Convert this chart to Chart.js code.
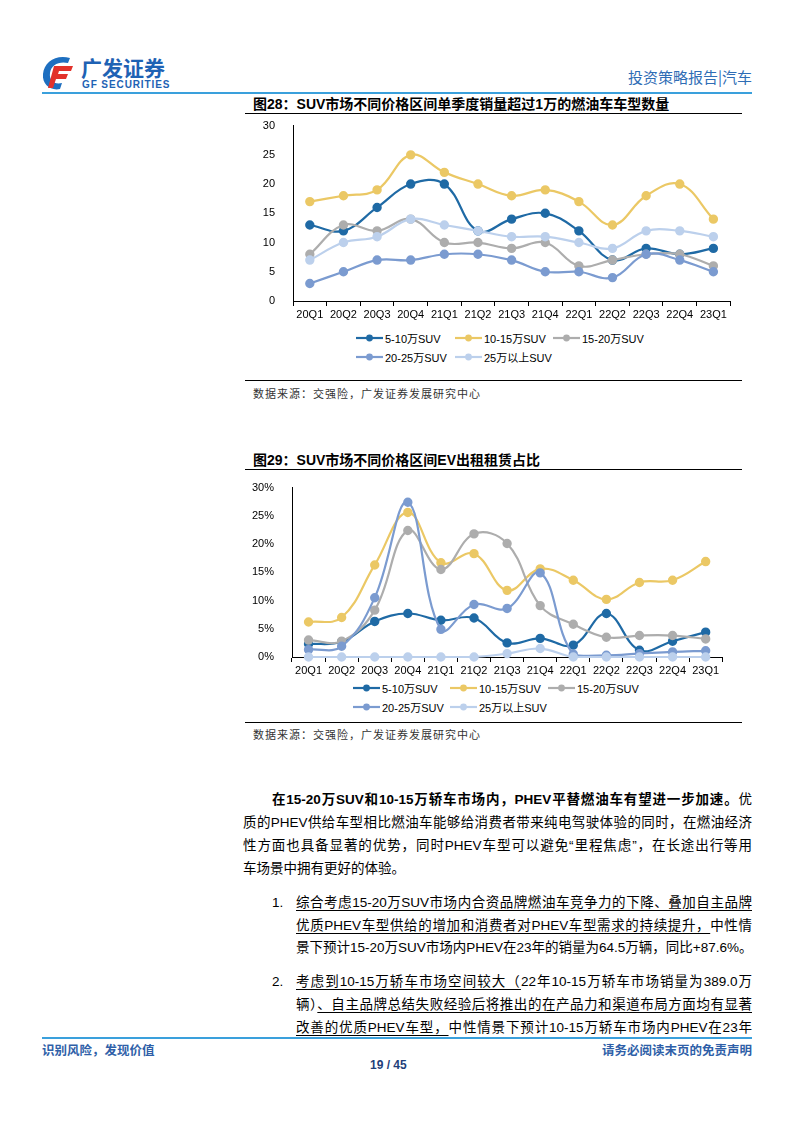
<!DOCTYPE html>
<html>
<head>
<meta charset="utf-8">
<script src="https://cdn.jsdelivr.net/npm/chart.js@4.4.0/dist/chart.umd.min.js"></script>
<style>
  html, body { margin:0; padding:0; background:#fff; }
  body { width:794px; height:1123px; position:relative; overflow:hidden;
         font-family:"Liberation Sans", Arial, "Noto Sans CJK SC", sans-serif; color:#000; }
  .abs { position:absolute; }
  .hline { position:absolute; height:0; }
  .title { font-size:14px; font-weight:bold; white-space:nowrap; }
  .src { font-size:11px; color:#333; letter-spacing:1px; white-space:nowrap; }
  .legend { position:absolute; font-size:11px; }
  .lg-item { position:absolute; white-space:nowrap; display:flex; align-items:center; }
  .lg-item svg { margin-right:2px; }
  .ln { position:absolute; white-space:nowrap; font-size:13.5px; text-align:justify; text-align-last:justify; line-height:18px; }
  .last { text-align-last:left; }
  u { text-decoration-thickness:1px; text-underline-offset:3px; }
</style>
</head>
<body>

<!-- header -->
<svg class="abs" style="left:40px;top:54px" width="36" height="38" viewBox="0 0 36 38">
  <path d="M30 4 C16 0 4 8 3 20 C2 31 11 37 20 35 L22 29 C14 31 9 26 10 19 C11 11 19 7 28 9 Z" fill="#1E6FC0"/>
  <path d="M14 12 L33 12 L31 17 L19 17 L18 20 L28 20 L26 25 L16 25 L13 34 L8 34 Z" fill="#E2322B"/>
</svg>
<div class="abs" style="left:81px;top:57px;font-size:21px;line-height:21px;font-weight:bold;color:#1E62B4;letter-spacing:0px;font-family:'Noto Sans CJK SC'">广发证券</div>
<div class="abs" style="left:82px;top:80px;font-size:10px;line-height:10px;font-weight:bold;color:#1E62B4;letter-spacing:0.9px">GF SECURITIES</div>
<div class="abs" style="right:42px;top:66px;font-size:15px;color:#2F6DB5;font-family:'Noto Sans CJK SC'">投资策略报告|汽车</div>
<div class="hline" style="left:42px;width:710px;top:92px;border-top:2px solid #3AA0DC"></div>

<!-- figure 28 -->
<div class="abs title" style="left:253px;top:93px">图28：SUV市场不同价格区间单季度销量超过1万的燃油车车型数量</div>
<div class="hline" style="left:245px;width:497px;top:113px;border-top:1.5px solid #000"></div>
<div class="abs" style="left:250px;top:109px;width:486px;height:214px"><canvas id="c1"></canvas></div>
<div class="legend" id="lg1" style="left:0;top:0"></div>
<div class="hline" style="left:245px;width:497px;top:380px;border-top:1.5px solid #000"></div>
<div class="abs src" style="left:253px;top:385px">数据来源：交强险，广发证券发展研究中心</div>

<!-- figure 29 -->
<div class="abs title" style="left:253px;top:449px">图29：SUV市场不同价格区间EV出租租赁占比</div>
<div class="hline" style="left:245px;width:497px;top:469px;border-top:1.5px solid #000"></div>
<div class="abs" style="left:250px;top:471px;width:478px;height:208px"><canvas id="c2"></canvas></div>
<div class="legend" id="lg2" style="left:0;top:0"></div>
<div class="hline" style="left:245px;width:497px;top:722px;border-top:1.5px solid #000"></div>
<div class="abs src" style="left:253px;top:726px">数据来源：交强险，广发证券发展研究中心</div>

<!-- body text -->
<div class="ln" style="left:272px;width:480px;top:791px"><b>在15-20万SUV和10-15万轿车市场内，PHEV平替燃油车有望进一步加速。</b>优</div>
<div class="ln" style="left:243px;width:509px;top:814px">质的PHEV供给车型相比燃油车能够给消费者带来纯电驾驶体验的同时，在燃油经济</div>
<div class="ln" style="left:243px;width:509px;top:837px">性方面也具备显著的优势，同时PHEV车型可以避免“里程焦虑”，在长途出行等用</div>
<div class="ln last" style="left:243px;width:509px;top:860px">车场景中拥有更好的体验。</div>

<div class="abs" style="left:272px;top:894px;font-size:13.5px;line-height:18px">1.</div>
<div class="ln" style="left:296px;width:456px;top:894px"><u>综合考虑15-20万SUV市场内合资品牌燃油车竞争力的下降、叠加自主品牌</u></div>
<div class="ln" style="left:296px;width:456px;top:917px"><u>优质PHEV车型供给的增加和消费者对PHEV车型需求的持续提升，</u>中性情</div>
<div class="ln last" style="left:296px;width:456px;top:939px">景下预计15-20万SUV市场内PHEV在23年的销量为64.5万辆，同比+87.6%。</div>

<div class="abs" style="left:272px;top:973px;font-size:13.5px;line-height:18px">2.</div>
<div class="ln" style="left:296px;width:456px;top:973px"><u>考虑到10-15万轿车市场空间较大（</u>22年10-15万轿车市场销量为389.0万</div>
<div class="ln" style="left:296px;width:456px;top:996px">辆）<u>、自主品牌总结失败经验后将推出的在产品力和渠道布局方面均有显著</u></div>
<div class="ln" style="left:296px;width:456px;top:1019px"><u>改善的优质PHEV车型，</u>中性情景下预计10-15万轿车市场内PHEV在23年</div>

<!-- footer -->
<div class="hline" style="left:42px;width:710px;top:1037px;border-top:2px solid #3AA0DC"></div>
<div class="abs" style="left:42px;top:1040px;font-size:12.5px;font-weight:bold;color:#2F5FA8;font-family:'Noto Sans CJK SC'">识别风险，发现价值</div>
<div class="abs" style="right:42px;top:1040px;font-size:12.5px;font-weight:bold;color:#2F5FA8;font-family:'Noto Sans CJK SC'">请务必阅读末页的免责声明</div>
<div class="abs" style="left:370px;top:1058px;font-size:12px;font-weight:bold;color:#1F3F7A">19 / 45</div>

<script>
// 季度標籤
const QUARTERS = ['20Q1','20Q2','20Q3','20Q4','21Q1','21Q2','21Q3','21Q4','22Q1','22Q2','22Q3','22Q4','23Q1'];
const SERIES_NAMES = ['5-10万SUV','10-15万SUV','15-20万SUV','20-25万SUV','25万以上SUV'];
const SERIES_COLORS = ['#1F6AA5','#EBC865','#ADADAD','#7B9BD0','#BCD0EC'];

// 圖28：車型數量
const CNT_5_10  = [13,12,16,20,20,12,14,15,12,7,9,8,9];
const CNT_10_15 = [17,18,19,25,22,20,18,19,17,13,18,20,14];
const CNT_15_20 = [8,13,12,14,10,10,9,10,6,7,8,8,6];
const CNT_20_25 = [3,5,7,7,8,8,7,5,5,4,8,7,5];
const CNT_25UP  = [7,10,11,14,13,12,11,11,10,9,12,12,11];
const CNT_TICKS = [0,5,10,15,20,25,30];

// 圖29：EV出租租賃占比 (%)
const EV_5_10  = [2.3,2.7,6.3,7.7,6.5,6.9,2.5,3.3,2.1,7.7,1.2,2.8,4.4];
const EV_10_15 = [6.2,7.0,16.3,25.6,16.7,18.3,11.8,15.6,13.6,10.2,13.2,13.6,16.9];
const EV_15_20 = [3.0,2.8,8.3,22.4,15.5,21.8,20.1,9.1,5.8,3.5,3.8,3.8,3.2];
const EV_20_25 = [1.3,1.9,10.5,27.4,4.9,9.3,8.6,14.9,0.5,0.3,0.6,0.9,1.1];
const EV_25UP  = [0,0,0,0,0,0,0.6,1.5,0,0,0,0,0];
const EV_TICKS = [0,5,10,15,20,25,30];

const FONT = { family:'"Liberation Sans", Arial, "Noto Sans CJK SC", sans-serif', size:11 };

function makeSets(arrs) {
  return arrs.map((d, i) => ({
    label: SERIES_NAMES[i], data: d,
    borderColor: SERIES_COLORS[i], backgroundColor: SERIES_COLORS[i],
    pointBackgroundColor: SERIES_COLORS[i], pointBorderColor: SERIES_COLORS[i],
    borderWidth: 2.2, pointRadius: 3.6, pointHoverRadius: 3.6,
    tension: 0.4, fill: false, clip: false, order: arrs.length - i
  }));
}

function makeChart(id, arrs, ticks, yLabel, yWidth) {
  return new Chart(document.getElementById(id), {
    type: 'line',
    data: { labels: QUARTERS, datasets: makeSets(arrs) },
    options: {
      responsive: true, maintainAspectRatio: false, animation: false,
      layout: { padding: { top: 7, right: 4, left: 0, bottom: 0 } },
      plugins: { legend: { display: false }, tooltip: { enabled: false } },
      scales: {
        x: {
          offset: true,
          grid: { display: true, drawOnChartArea: false, drawTicks: true, tickLength: 5, offset: true, color: '#000' },
          border: { display: true, color: '#000', width: 1 },
          ticks: { font: FONT, color: '#000', padding: 2, maxRotation: 0, autoSkip: false },
          afterFit: s => { s.height = 22; }
        },
        y: {
          min: ticks[0], max: ticks[ticks.length - 1],
          afterBuildTicks: s => { s.ticks = ticks.map(v => ({ value: v })); },
          grid: { display: false },
          border: { display: true, color: '#000', width: 1 },
          ticks: { font: FONT, color: '#000', padding: 10, callback: yLabel },
          afterFit: s => { s.width = yWidth; }
        }
      }
    }
  });
}

function buildLegend(elId, top, cols, rowGap) {
  const box = document.getElementById(elId);
  SERIES_NAMES.forEach((name, i) => {
    const row = Math.floor(i / 3), col = i % 3;
    const it = document.createElement('div');
    it.className = 'lg-item';
    it.style.left = cols[col] + 'px';
    it.style.top = (top + row * rowGap - 7) + 'px';
    it.innerHTML = `<svg width="27" height="14"><line x1="0" y1="7" x2="27" y2="7" stroke="${SERIES_COLORS[i]}" stroke-width="2.2"/><circle cx="13.5" cy="7" r="3.4" fill="${SERIES_COLORS[i]}"/></svg><span>${name}</span>`;
    box.appendChild(it);
  });
}

makeChart('c1', [CNT_5_10, CNT_10_15, CNT_15_20, CNT_20_25, CNT_25UP], CNT_TICKS, v => v, 43);
makeChart('c2', [EV_5_10, EV_10_15, EV_15_20, EV_20_25, EV_25UP], EV_TICKS, v => v + '%', 42);
buildLegend('lg1', 337, [356, 455, 553], 19);
buildLegend('lg2', 687, [353, 450, 548], 19);
</script>
</body>
</html>
